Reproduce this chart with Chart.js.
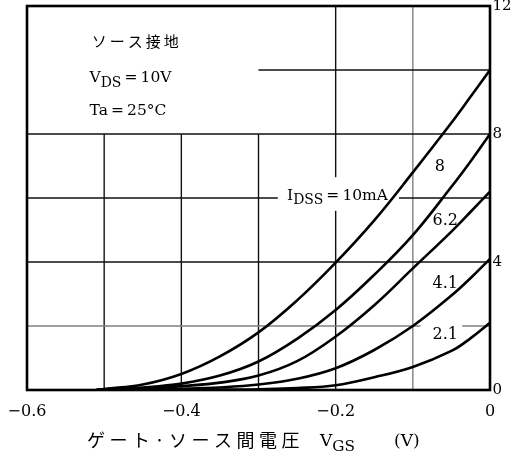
<!DOCTYPE html>
<html>
<head>
<meta charset="utf-8">
<script src="https://cdn.jsdelivr.net/npm/chart.js@4.4.1/dist/chart.umd.min.js"></script>
<style>
  html, body { margin: 0; padding: 0; background: #fff; }
  #wrap { width: 514px; height: 459px; }
</style>
</head>
<body>
<div id="wrap"><canvas id="myChart" width="514" height="459"></canvas></div>
<script>
// Gate-source voltage (V) sample points
const vgs = [-0.51, -0.5, -0.45, -0.4, -0.35, -0.3, -0.25, -0.2, -0.15, -0.1, -0.05, -0.025, 0];

// Drain current (mA) for each IDSS curve
const id10 = [0, 0.03, 0.17, 0.5, 1.05, 1.8, 2.8, 3.98, 5.3, 6.8, 8.35, 9.17, 10];
const id8 = [0, 0.02, 0.08, 0.2, 0.45, 0.89, 1.6, 2.5, 3.6, 4.84, 6.35, 7.15, 8];
const id62 = [0, 0.01, 0.04, 0.12, 0.23, 0.45, 0.9, 1.67, 2.65, 3.8, 4.95, 5.57, 6.2];
const id41 = [0, 0, 0.02, 0.04, 0.08, 0.17, 0.35, 0.68, 1.25, 2.0, 2.95, 3.5, 4.1];
const id21 = [0, 0, 0, 0.005, 0.01, 0.025, 0.06, 0.15, 0.4, 0.72, 1.22, 1.62, 2.1];

const seriesNames = ["10", "8", "6.2", "4.1", "2.1"];
const seriesValues = [id10, id8, id62, id41, id21];

// tick labels
const xTickLabels = ["\u22120.6", "\u22120.4", "\u22120.2", "0"];
const yTickLabels = ["0", "4", "8", "12"];

// grid lines
const xGrid = [-0.5, -0.4, -0.3, -0.2, -0.1];
const yGrid = [2, 4, 6, 8, 10];

const SERIF = '"DejaVu Serif", "Liberation Serif", serif';
const JP = '"Noto Sans CJK JP", sans-serif';
const TS = "\u2009"; // thin space around "="

// draw text with subscript runs: parts = [[text, isSub], ...]
function drawRich(ctx, parts, x, y, size) {
  let cx = x;
  parts.forEach(([text, sub]) => {
    ctx.font = `${sub ? size * 0.9 : size}px ${SERIF}`;
    ctx.fillText(text, cx, y + (sub ? size * 0.3 : 0));
    cx += ctx.measureText(text).width;
  });
}

function drawSpaced(ctx, text, x, y, gap) {
  let cx = x;
  for (const ch of text) {
    ctx.fillText(ch, cx, y);
    cx += ctx.measureText(ch).width + gap;
  }
}

const datasets = seriesValues.map((vals, i) => ({
  label: seriesNames[i],
  data: vals.map((v, j) => ({ x: vgs[j], y: v })),
  borderColor: "#000",
  borderWidth: 2.6,
  pointRadius: 0,
  fill: false,
  tension: 0.4,
}));

const ctx = document.getElementById("myChart");

new Chart(ctx, {
  type: "line",
  data: { datasets: datasets },
  options: {
    responsive: false,
    animation: false,
    layout: { padding: { left: 27, top: 6, right: 0, bottom: 0 } },
    plugins: { legend: { display: false }, tooltip: { enabled: false } },
    scales: {
      x: {
        type: "linear",
        min: -0.6,
        max: 0,
        grid: { display: false, drawTicks: false },
        border: { display: false },
        ticks: {
          stepSize: 0.1,
          maxRotation: 0,
          autoSkip: false,
          padding: 12,
          color: "#000",
          font: { family: SERIF, size: 16 },
          callback: (value, index) => (index % 2 === 0 ? xTickLabels[index / 2] : ""),
        },
        afterFit(scale) {
          scale.height = 69;
          scale.paddingLeft = 0;
          scale.paddingRight = 0;
        },
      },
      y: {
        position: "right",
        min: 0,
        max: 12,
        grid: { display: false, drawTicks: false },
        border: { display: false },
        ticks: {
          stepSize: 2,
          autoSkip: false,
          padding: 2.5,
          color: "#000",
          font: { family: SERIF, size: 15 },
          callback: (value, index) => (index % 2 === 0 ? yTickLabels[index / 2] : ""),
        },
        afterFit(scale) {
          scale.width = 24;
          scale.paddingTop = 0;
          scale.paddingBottom = 0;
        },
      },
    },
  },
  plugins: [
    {
      id: "custom_grid",
      beforeDatasetsDraw(chart) {
        const { ctx, scales } = chart;
        const X = (v) => scales.x.getPixelForValue(v);
        const Y = (v) => scales.y.getPixelForValue(v);
        ctx.save();
        ctx.lineWidth = 1.4;
        // vertical lines (top-left box has none above 8 mA)
        xGrid.forEach((v) => {
          ctx.strokeStyle = v === -0.1 ? "#808080" : "#111";
          ctx.beginPath();
          ctx.moveTo(X(v), Y(v <= -0.3 ? 8 : 12));
          ctx.lineTo(X(v), Y(0));
          ctx.stroke();
        });
        // horizontal lines
        yGrid.forEach((v) => {
          ctx.strokeStyle = v === 2 ? "#808080" : "#111";
          ctx.beginPath();
          ctx.moveTo(X(v > 8 ? -0.3 : -0.6), Y(v));
          ctx.lineTo(X(0), Y(v));
          ctx.stroke();
        });
        // white patches behind labels
        ctx.fillStyle = "#fff";
        ctx.fillRect(X(-0.275), Y(6.65), X(-0.118) - X(-0.275), Y(5.6) - Y(6.65));
        ctx.fillRect(X(-0.09), Y(2.05), X(-0.036) - X(-0.09), Y(1.4) - Y(2.05));
        ctx.restore();
      },
      afterDatasetsDraw(chart) {
        const { ctx, chartArea, scales } = chart;
        const X = (v) => scales.x.getPixelForValue(v);
        const Y = (v) => scales.y.getPixelForValue(v);
        ctx.save();
        // frame
        ctx.strokeStyle = "#000";
        ctx.lineWidth = 2.6;
        ctx.strokeRect(chartArea.left, chartArea.top,
          chartArea.right - chartArea.left, chartArea.bottom - chartArea.top);

        ctx.fillStyle = "#000";
        ctx.textBaseline = "alphabetic";
        ctx.textAlign = "left";

        // condition box
        ctx.font = `15px ${JP}`;
        drawSpaced(ctx, "ソース接地", X(-0.516), Y(10.72), 3);
        drawRich(ctx, [["V", false], ["DS", true], [TS + "=" + TS + "10V", false]], X(-0.519), Y(9.62), 15.5);
        drawRich(ctx, [["Ta" + TS + "=" + TS + "25\u00b0C", false]], X(-0.519), Y(8.6), 15.5);

        // curve labels
        drawRich(ctx, [["I", false], ["DSS", true], [TS + "=" + TS + "10mA", false]], X(-0.263), Y(5.95), 15.5);
        ctx.textAlign = "center";
        ctx.textBaseline = "middle";
        ctx.font = `16px ${SERIF}`;
        ctx.fillText("8", X(-0.065), Y(6.97));
        ctx.fillText("6.2", X(-0.058), Y(5.28));
        ctx.fillText("4.1", X(-0.058), Y(3.31));
        ctx.fillText("2.1", X(-0.058), Y(1.72));

        // x axis title
        ctx.textAlign = "left";
        ctx.textBaseline = "middle";
        ctx.font = `18px ${JP}`;
        drawSpaced(ctx, "ゲート·ソース間電圧", 87, 440, 4.5);
        ctx.textBaseline = "alphabetic";
        drawRich(ctx, [["V", false], ["GS", true]], 320, 446, 17);
        ctx.font = `17px ${SERIF}`;
        ctx.fillText("(V)", 394, 446);
        ctx.restore();
      },
    },
  ],
});
</script>
</body>
</html>
